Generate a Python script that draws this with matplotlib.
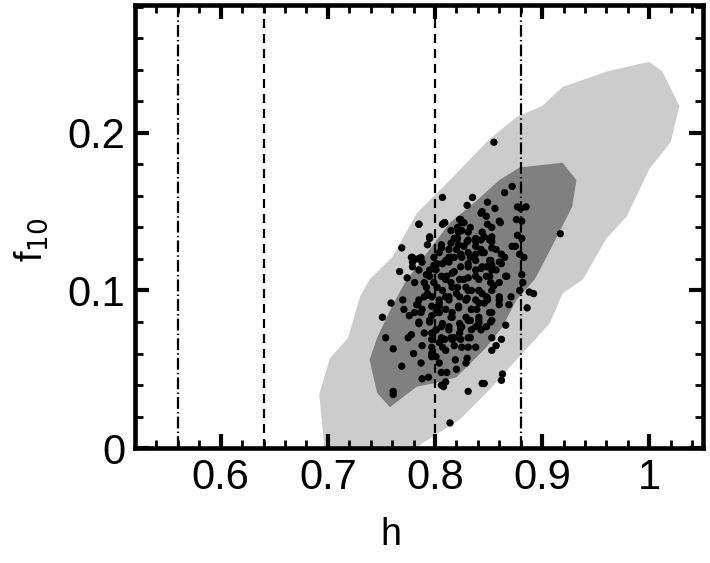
import matplotlib
matplotlib.use("Agg")
import matplotlib.pyplot as plt
from matplotlib.ticker import MultipleLocator, FormatStrFormatter
import numpy as np

plt.rcParams['font.family'] = ['Liberation Sans', 'DejaVu Sans']
plt.rcParams['lines.scale_dashes'] = False

# outer (light) confidence region
outer_h = [0.697, 0.692, 0.702, 0.719, 0.730, 0.739, 0.760, 0.783, 0.814, 0.851,
           0.876, 0.900, 0.919, 0.961, 1.000, 1.012, 1.028, 1.020, 1.000, 0.979,
           0.960, 0.938, 0.919, 0.907, 0.876, 0.851, 0.823, 0.788, 0.783]
outer_f = [0.000, 0.034, 0.057, 0.070, 0.096, 0.107, 0.121, 0.149, 0.170, 0.196,
           0.210, 0.217, 0.229, 0.239, 0.245, 0.239, 0.217, 0.194, 0.177, 0.147,
           0.133, 0.107, 0.098, 0.079, 0.056, 0.037, 0.018, 0.003, 0.000]

# inner (dark) confidence region
inner_h = [0.879, 0.919, 0.932, 0.928, 0.916, 0.904, 0.893, 0.876, 0.863, 0.848,
           0.820, 0.798, 0.783, 0.758, 0.746, 0.739, 0.746, 0.760, 0.772, 0.795,
           0.814, 0.839, 0.860]
inner_f = [0.178, 0.181, 0.170, 0.153, 0.137, 0.121, 0.107, 0.094, 0.077, 0.064,
           0.045, 0.041, 0.039, 0.026, 0.035, 0.056, 0.070, 0.090, 0.105, 0.126,
           0.143, 0.157, 0.170]

# vertical reference values of h
h_dashdot = [0.56, 0.88]
h_dashed = [0.64, 0.80]

# sampled points (h, f10)
sample = [
    (0.855, 0.194), (0.872, 0.166), (0.865, 0.162), (0.885, 0.153), (0.877, 0.153),
    (0.880, 0.152), (0.849, 0.156), (0.856, 0.152), (0.844, 0.150), (0.848, 0.147),
    (0.876, 0.145), (0.881, 0.144), (0.860, 0.144), (0.853, 0.140), (0.917, 0.136),
    (0.877, 0.135), (0.881, 0.133), (0.846, 0.134), (0.852, 0.133), (0.872, 0.128),
    (0.875, 0.128), (0.879, 0.123), (0.883, 0.121), (0.862, 0.123), (0.865, 0.121),
    (0.853, 0.127), (0.860, 0.118),
    (0.881, 0.110), (0.882, 0.105), (0.867, 0.109), (0.888, 0.099), (0.892, 0.098),
    (0.879, 0.100), (0.886, 0.089), (0.871, 0.096), (0.860, 0.096), (0.869, 0.091),
    (0.866, 0.078), (0.862, 0.069), (0.855, 0.103), (0.860, 0.091), (0.853, 0.081),
    (0.848, 0.077),
    (0.853, 0.062), (0.857, 0.065), (0.863, 0.047), (0.862, 0.043), (0.846, 0.041),
    (0.761, 0.063), (0.780, 0.060), (0.769, 0.052), (0.787, 0.054), (0.761, 0.036),
    (0.761, 0.034), (0.788, 0.044), (0.794, 0.045), (0.806, 0.040), (0.808, 0.039),
    (0.810, 0.042), (0.831, 0.036), (0.814, 0.016), (0.788, 0.065), (0.797, 0.064),
    (0.801, 0.058), (0.804, 0.054), (0.797, 0.058), (0.806, 0.048), (0.811, 0.048),
    (0.820, 0.050), (0.819, 0.056), (0.829, 0.054), (0.830, 0.057), (0.838, 0.064),
    (0.831, 0.064), (0.825, 0.064), (0.818, 0.065), (0.807, 0.064), (0.844, 0.041),
    (0.807, 0.159), (0.785, 0.142), (0.769, 0.127), (0.795, 0.133), (0.793, 0.129),
    (0.807, 0.142), (0.809, 0.143), (0.779, 0.121), (0.779, 0.118), (0.784, 0.120),
    (0.788, 0.118), (0.830, 0.154), (0.835, 0.159), (0.843, 0.149), (0.824, 0.145),
    (0.827, 0.143), (0.821, 0.140), (0.822, 0.137), (0.831, 0.137), (0.818, 0.133),
    (0.815, 0.130), (0.806, 0.129), (0.804, 0.124), (0.813, 0.126), (0.822, 0.129),
    (0.830, 0.131), (0.838, 0.131), (0.843, 0.132), (0.831, 0.124), (0.824, 0.123),
    (0.818, 0.121), (0.810, 0.119), (0.799, 0.121), (0.802, 0.117), (0.838, 0.123),
    (0.843, 0.126),
    (0.767, 0.112), (0.759, 0.092), (0.751, 0.083), (0.754, 0.070), (0.775, 0.070),
    (0.774, 0.108), (0.779, 0.115), (0.770, 0.094), (0.771, 0.088), (0.783, 0.091),
    (0.781, 0.086), (0.785, 0.080), (0.787, 0.086), (0.793, 0.098), (0.790, 0.105),
    (0.795, 0.113), (0.801, 0.116), (0.806, 0.109), (0.799, 0.105), (0.804, 0.094),
    (0.810, 0.096), (0.797, 0.090), (0.804, 0.086), (0.795, 0.080), (0.801, 0.075),
    (0.790, 0.073), (0.806, 0.070), (0.813, 0.077), (0.816, 0.086), (0.822, 0.090),
    (0.820, 0.098), (0.815, 0.105), (0.818, 0.112), (0.827, 0.107), (0.831, 0.100),
    (0.829, 0.094), (0.834, 0.088), (0.831, 0.081), (0.825, 0.077), (0.818, 0.070),
    (0.824, 0.069), (0.831, 0.070), (0.838, 0.077), (0.841, 0.083), (0.838, 0.094),
    (0.841, 0.100), (0.838, 0.109), (0.831, 0.115), (0.813, 0.118), (0.785, 0.113),
    (0.790, 0.096), (0.809, 0.069), (0.797, 0.069),
    (0.844, 0.115), (0.853, 0.116), (0.851, 0.109), (0.844, 0.098), (0.846, 0.092),
    (0.851, 0.086), (0.841, 0.079), (0.849, 0.095), (0.857, 0.113),
    (0.823, 0.145), (0.825, 0.138), (0.831, 0.132), (0.838, 0.128), (0.844, 0.124),
    (0.851, 0.119), (0.853, 0.113), (0.848, 0.109), (0.838, 0.113), (0.831, 0.117),
    (0.825, 0.121), (0.820, 0.126), (0.813, 0.121), (0.807, 0.117), (0.801, 0.113),
    (0.795, 0.109), (0.792, 0.102), (0.797, 0.096), (0.804, 0.092), (0.810, 0.088),
    (0.816, 0.083), (0.823, 0.079), (0.829, 0.083), (0.834, 0.088), (0.841, 0.092),
    (0.848, 0.096), (0.853, 0.100), (0.860, 0.105), (0.866, 0.109), (0.823, 0.107),
    (0.829, 0.102), (0.816, 0.102), (0.810, 0.107), (0.816, 0.111), (0.823, 0.096),
    (0.813, 0.094), (0.807, 0.100), (0.834, 0.100), (0.829, 0.094), (0.801, 0.086),
    (0.807, 0.079), (0.813, 0.075), (0.801, 0.075), (0.795, 0.081), (0.788, 0.088),
    (0.785, 0.094), (0.841, 0.107), (0.838, 0.119), (0.848, 0.115), (0.804, 0.067),
    (0.810, 0.062), (0.797, 0.060), (0.816, 0.069), (0.823, 0.073), (0.834, 0.075),
    (0.841, 0.081), (0.853, 0.086), (0.860, 0.094), (0.862, 0.117), (0.857, 0.126),
    (0.851, 0.132), (0.844, 0.137), (0.853, 0.134),
    (0.785, 0.142), (0.809, 0.143), (0.815, 0.138), (0.825, 0.143), (0.833, 0.140),
    (0.849, 0.142), (0.861, 0.143), (0.795, 0.134), (0.821, 0.133), (0.838, 0.133),
    (0.853, 0.131), (0.806, 0.127), (0.827, 0.128), (0.846, 0.124), (0.778, 0.121),
    (0.787, 0.121), (0.815, 0.121), (0.833, 0.121), (0.852, 0.119), (0.799, 0.116),
    (0.824, 0.115), (0.843, 0.114), (0.792, 0.110), (0.811, 0.109), (0.831, 0.108),
    (0.852, 0.105), (0.781, 0.105), (0.802, 0.102), (0.821, 0.102), (0.841, 0.100),
    (0.793, 0.097), (0.813, 0.096), (0.830, 0.095), (0.849, 0.094), (0.784, 0.091),
    (0.804, 0.090), (0.822, 0.089), (0.839, 0.088), (0.776, 0.084), (0.797, 0.084),
    (0.815, 0.083), (0.833, 0.081), (0.852, 0.080), (0.785, 0.079), (0.806, 0.077),
    (0.824, 0.076), (0.843, 0.075), (0.797, 0.073), (0.815, 0.070), (0.833, 0.070),
    (0.778, 0.072), (0.853, 0.070),
]
pts_h = [p[0] for p in sample]
pts_f = [p[1] for p in sample]

fig = plt.figure(figsize=(7.1, 5.63), dpi=100)
ax = fig.add_axes([0.190, 0.204, 0.800, 0.787])

ax.fill(outer_h, outer_f, color='#cccccc', lw=0, zorder=1)
ax.fill(inner_h, inner_f, color='#808080', lw=0, zorder=2)

for x in h_dashed:
    ax.axvline(x, color='black', lw=1.6, dashes=(6.5, 4.3), zorder=3)
for x in h_dashdot:
    ax.axvline(x, color='black', lw=1.6, dashes=(8.5, 2.3, 1.0, 2.3), zorder=3)

ax.scatter(pts_h, pts_f, s=28, c='black', edgecolors='none', zorder=4)

ax.set_xlim(0.52, 1.05)
ax.set_ylim(0, 0.281)
ax.xaxis.set_major_locator(MultipleLocator(0.1))
ax.xaxis.set_minor_locator(MultipleLocator(0.02))
ax.yaxis.set_major_locator(MultipleLocator(0.1))
ax.yaxis.set_minor_locator(MultipleLocator(0.02))
ax.xaxis.set_major_formatter(FormatStrFormatter('%g'))
ax.yaxis.set_major_formatter(FormatStrFormatter('%g'))

for s in ax.spines.values():
    s.set_linewidth(3.3)
ax.tick_params(which='both', direction='in', top=True, right=True, labelsize=30)
ax.tick_params(which='major', length=10, width=3, pad=7)
ax.tick_params(which='minor', length=6, width=2)

ax.set_xlabel('h', fontsize=27)
ax.set_ylabel('f$_{10}$', fontsize=27)
ax.xaxis.set_label_coords(0.45, -0.155)
ax.yaxis.set_label_coords(-0.15, 0.47)

fig.savefig('out.png', dpi=100)
